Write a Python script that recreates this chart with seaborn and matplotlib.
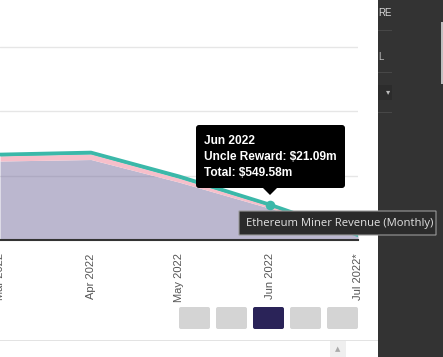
import pandas as pd
import seaborn as sns
import matplotlib.pyplot as plt
from matplotlib.patches import Rectangle, FancyBboxPatch, Polygon
from matplotlib.transforms import IdentityTransform

# monthly miner revenue (millions USD)
months = ["2022-03-01", "2022-04-01", "2022-05-01", "2022-06-01", "2022-07-01"]
tick_labels = ["Mar 2022", "Apr 2022", "May 2022", "Jun 2022", "Jul 2022*"]
block_reward = [1228, 1251, 900, 493.49, 66]
tx_fees = [80, 87, 60, 35, 6]
uncle_reward = [21, 22, 30, 21.09, 3]
grid_values = [1000, 2000, 3000]

W, H = 443, 357
PURPLE = "#7870a0"
PINK = "#f6bfca"
TEAL = "#3bb8a9"

df = pd.DataFrame({"month": pd.to_datetime(months),
                   "block": block_reward, "fees": tx_fees, "uncle": uncle_reward})
df["total"] = df["block"] + df["fees"] + df["uncle"]

sns.set_style("white")
plt.rcParams["font.family"] = ["Liberation Sans", "DejaVu Sans"]

fig = plt.figure(figsize=(W / 100, H / 100), dpi=100)
ax = fig.add_axes([0, (H - 240) / H, 358 / W, 240 / H])

ax.stackplot(df["month"], df["block"], df["fees"], df["uncle"],
             colors=[PURPLE, PINK, TEAL], linewidth=0, zorder=2)
ax.collections[0].set_alpha(0.5)
sns.lineplot(data=df, x="month", y="total", color=TEAL, linewidth=2.6, ax=ax, zorder=3)
jun = df.iloc[3]
ax.scatter([jun["month"]], [jun["total"]], s=48, color=TEAL, linewidth=0, zorder=5)

ax.set_xlim(df["month"].iloc[0], df["month"].iloc[-1])
ax.set_ylim(0, 240 / 0.06433)
ax.set_yticks(grid_values)
ax.set_yticklabels([])
ax.yaxis.grid(True, color="#e6e6e6", linewidth=1)
ax.set_axisbelow(True)
ax.set_xticks(df["month"])
ax.set_xticklabels(tick_labels, rotation=90, fontsize=8, color="#555555")
ax.tick_params(axis="both", length=0)
ax.tick_params(axis="x", pad=9.5)
ax.set_xlabel("")
ax.set_ylabel("")
for s in ["top", "left", "right"]:
    ax.spines[s].set_visible(False)
ax.spines["bottom"].set_color("#333333")
ax.spines["bottom"].set_linewidth(1.5)

px = IdentityTransform()


def box(x0, y0, x1, y1, color, rad=0, ec="none", lw=0, z=10):
    p = FancyBboxPatch((x0, H - y1), x1 - x0, y1 - y0,
                       boxstyle=f"round,pad=0,rounding_size={rad}",
                       fc=color, ec=ec, lw=lw, transform=px, zorder=z)
    fig.add_artist(p)


def label(x, y, s, z=20, **kw):
    fig.text(x, H - y, s, transform=px, zorder=z, **kw)


# dark side panel
box(378, 0, W, H, "#333333", z=10)
label(378, 13, "RE", color="#d8d8d8", fontsize=7, va="center", z=12)
for y in [31, 73, 113]:
    box(378, y - 1, 392, y, "#474747", z=11)
label(378, 57, "L", color="#bbbbbb", fontsize=7, va="center", z=12)
box(378, 85, 392, 100, "#2c2c2c", z=11)
label(388, 92, "\u25be", color="#bbbbbb", fontsize=6, ha="center", va="center",
      family=["DejaVu Sans"], z=12)
box(441, 22, 443, 84, "#bfbfbf", z=11)

# hover tooltip
box(196, 125, 345, 188, "black", rad=3, z=14)
fig.add_artist(Polygon([(263, H - 188), (277, H - 188), (270, H - 195)],
                       closed=True, fc="black", ec="none", transform=px, zorder=14))
label(204, 141, "Jun 2022", color="white", fontsize=8.6, fontweight="bold", va="center")
label(204, 157, "Uncle Reward: $21.09m", color="white", fontsize=8.6, fontweight="bold", va="center")
label(204, 173, "Total: $549.58m", color="white", fontsize=8.6, fontweight="bold", va="center")

# browser title tooltip
box(239, 211, 436, 235, "#2b2b2b", ec="#9a9a9a", lw=0.8, z=15)
label(246, 223.5, "Ethereum Miner Revenue (Monthly)", color="#e2e2e2",
      fontsize=8.1, va="center", family=["Open Sans", "DejaVu Sans"], z=21)

# period buttons
for i, x0 in enumerate([179, 216, 253, 290, 327]):
    box(x0, 307, x0 + 31, 329, "#2a2358" if i == 2 else "#d4d4d4", rad=2)

# bottom separator and scroll button
box(0, 340, 378, 341, "#e3e3e3")
box(330, 341, 346, 357, "#efefef")
label(338, 349, "\u25b2", color="#aaaaaa", fontsize=5, ha="center", va="center",
      family=["DejaVu Sans"])

fig.savefig("out.png", dpi=100)
